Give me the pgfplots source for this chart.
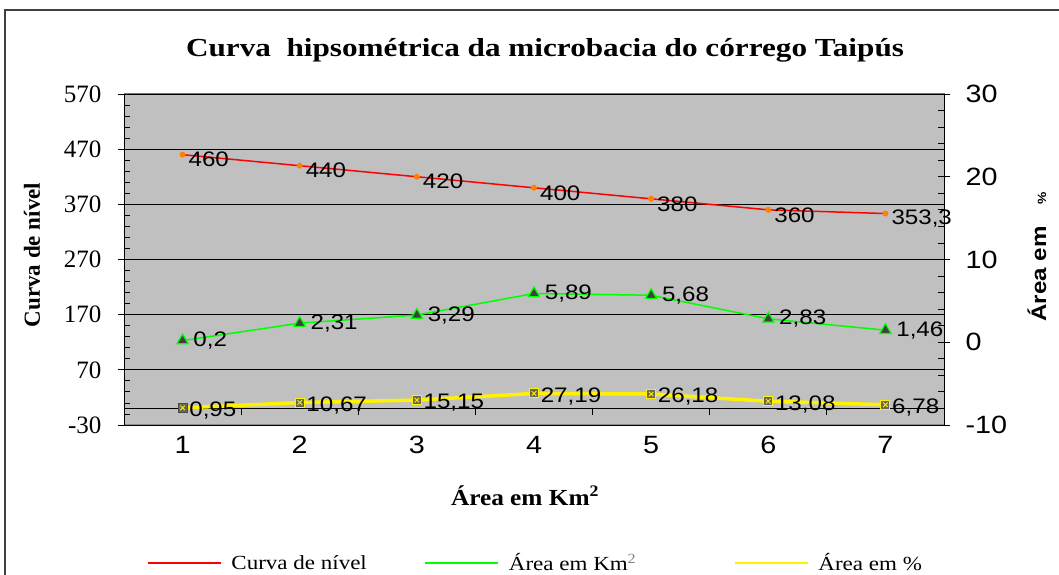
\documentclass[border=0pt]{standalone}
\usepackage{pgfplots}
\pgfplotsset{compat=1.18}
\usepackage{pgfplotstable}
\usepackage{fontspec}
\setmainfont{Liberation Serif}
\newfontfamily\sansS[FakeStretch=1.15]{Liberation Sans}
\newfontfamily\serifS[FakeStretch=1.2]{Liberation Serif}
\newfontfamily\serifL[FakeStretch=1.15]{Liberation Serif}
\newfontfamily\serifX[FakeStretch=1.1]{Liberation Serif}
\definecolor{plotbg}{RGB}{192,192,192}
\definecolor{mkor}{RGB}{255,128,0}
\definecolor{sqfill}{RGB}{105,105,80}

\pgfdeclareplotmark{sqx}{%
  \pgfpathrectangle{\pgfqpoint{-\pgfplotmarksize}{-\pgfplotmarksize}}{\pgfqpoint{2\pgfplotmarksize}{2\pgfplotmarksize}}%
  \pgfusepathqfillstroke
  \pgfsetstrokecolor{yellow}\pgfsetlinewidth{0.9bp}%
  \pgfpathmoveto{\pgfqpoint{-0.5\pgfplotmarksize}{-0.5\pgfplotmarksize}}%
  \pgfpathlineto{\pgfqpoint{0.5\pgfplotmarksize}{0.5\pgfplotmarksize}}%
  \pgfpathmoveto{\pgfqpoint{-0.5\pgfplotmarksize}{0.5\pgfplotmarksize}}%
  \pgfpathlineto{\pgfqpoint{0.5\pgfplotmarksize}{-0.5\pgfplotmarksize}}%
  \pgfusepathqstroke}

\pgfplotstableread{
x y lab
1 460 460
2 440 440
3 420 420
4 400 400
5 380 380
6 360 360
7 353.3 353,3
}\curva

\pgfplotstableread{
x y lab
1 0.2 0,2
2 2.31 2,31
3 3.29 3,29
4 5.89 5,89
5 5.68 5,68
6 2.83 2,83
7 1.46 1,46
}\areakm

\pgfplotstableread{
x y lab
1 0.95 0,95
2 10.67 10,67
3 15.15 15,15
4 27.19 27,19
5 26.18 26,18
6 13.08 13,08
7 6.78 6,78
}\areapct

\begin{document}
\begin{tikzpicture}
\useasboundingbox (0,0) rectangle (1059bp,575bp);
\fill[white] (0,0) rectangle (1059bp,575bp);
\draw[black!75, line width=1.5bp] (5bp,0bp) -- (5bp,565bp) -- (1059bp,565bp);

\begin{axis}[
  at={(124bp,150bp)}, anchor=south west,
  scale only axis, width=820bp, height=331bp,
  xmin=0.5, xmax=7.5, ymin=-30, ymax=570,
  xtick={1,...,7}, ytick={-30,70,...,570},
  minor y tick num=4,
  axis y line*=left, axis x line*=bottom,
  x axis line style={draw=black!45, line width=1bp},
  y axis line style={black, line width=1bp},
  axis background/.style={fill=plotbg, draw=black!55, line width=1bp},
  ymajorgrids, grid style={black, line width=0.8bp},
  tick align=center, major tick length=12bp, minor tick length=6bp,
  minor tick style={xshift=3bp},
  xtick style={draw=none},
  ytick style={black, line width=0.8bp},
  /pgf/number format/assume math mode=true,
  yticklabel style={font=\fontsize{25bp}{27bp}\selectfont, xshift=-13bp},
  xticklabel style={font=\sansS\fontsize{25bp}{27bp}\selectfont, yshift=-2bp},
  clip=false,
]
\draw[black, line width=1bp] (axis cs:0.5,0) -- (axis cs:7.5,0);
\draw[black, line width=0.8bp] (axis cs:1.5,0) -- (axis cs:1.5,-11)
  (axis cs:2.5,0) -- (axis cs:2.5,-11) (axis cs:3.5,0) -- (axis cs:3.5,-11)
  (axis cs:4.5,0) -- (axis cs:4.5,-11) (axis cs:5.5,0) -- (axis cs:5.5,-11)
  (axis cs:6.5,0) -- (axis cs:6.5,-11);
\addplot[red, line width=1.5bp, mark=*, mark size=2.2bp,
  mark options={fill=mkor, draw=mkor},
  nodes near coords, point meta=explicit symbolic,
  every node near coord/.append style={anchor=west, text=black,
    font=\sansS\fontsize{21bp}{23bp}\selectfont, xshift=2bp, yshift=-5bp}]
  table[x=x, y=y, meta=lab] {\curva};
\addplot[yellow, line width=3.5bp, mark=sqx, mark size=4.5bp,
  mark options={fill=sqfill, draw=black!70, line width=0.6bp},
  nodes near coords, point meta=explicit symbolic,
  every node near coord/.append style={anchor=west, text=black,
    font=\sansS\fontsize{21bp}{23bp}\selectfont, xshift=3bp, yshift=-3bp}]
  table[x=x, y=y, meta=lab] {\areapct};
\end{axis}

\begin{axis}[
  at={(124bp,150bp)}, anchor=south west,
  scale only axis, width=820bp, height=331bp,
  xmin=0.5, xmax=7.5, ymin=-10, ymax=30,
  xtick=\empty, ytick={-10,0,...,30},
  minor y tick num=4,
  axis y line*=right, axis x line=none,
  y axis line style={black, line width=1bp},
  tick align=center, major tick length=12bp, minor tick length=6bp,
  minor tick style={xshift=-3bp},
  ytick style={black, line width=0.8bp},
  /pgf/number format/assume math mode=true,
  yticklabel style={font=\sansS\fontsize{25bp}{27bp}\selectfont, xshift=12bp},
  clip=false,
  legend columns=3,
  legend style={at={(0.028,-0.417)}, anchor=west, draw=none, fill=none,
    inner sep=0pt, outer sep=0pt,
    nodes={inner sep=0pt, font=\serifL\fontsize{20bp}{22bp}\selectfont},
    /tikz/every odd column/.append style={column sep=10bp},
    /tikz/every even column/.append style={column sep=0bp}},
  legend image code/.code={\draw[#1] (0bp,0bp) -- (73bp,0bp);},
]
\addplot[forget plot, green, line width=1.5bp, mark=triangle*, mark size=6.5bp,
  mark options={fill=black!75, draw=green, line width=1.2bp},
  nodes near coords, point meta=explicit symbolic,
  every node near coord/.append style={anchor=west, text=black,
    font=\sansS\fontsize{21bp}{23bp}\selectfont, xshift=7bp, yshift=0bp}]
  table[x=x, y=y, meta=lab] {\areakm};
\addlegendimage{red, line width=1.5bp}
\addlegendentry{\makebox[193bp][l]{Curva de nível}}
\addlegendimage{green, line width=1.5bp}
\addlegendentry{\makebox[225bp][l]{Área em Km\textsuperscript{\color{gray}2}}}
\addlegendimage{yellow, line width=1.5bp}
\addlegendentry{Área em \%}
\end{axis}

\node[anchor=base, font=\serifS\bfseries\fontsize{26bp}{28bp}\selectfont] at (545bp,518bp)
  {Curva\ \ hipsométrica da microbacia do córrego Taipús};
\node[rotate=90, font=\bfseries\fontsize{23bp}{25bp}\selectfont] at (32bp,320bp) {Curva de nível};
\node[rotate=90, font=\sansS\bfseries\fontsize{21bp}{23bp}\selectfont] at (1037bp,318bp)
  {Área em\hspace{22bp}{\fontsize{12bp}{13bp}\selectfont\%}};
\node[font=\serifX\bfseries\fontsize{23bp}{25bp}\selectfont] at (525bp,79bp) {Área em Km\textsuperscript{2}};
\end{tikzpicture}
\end{document}
